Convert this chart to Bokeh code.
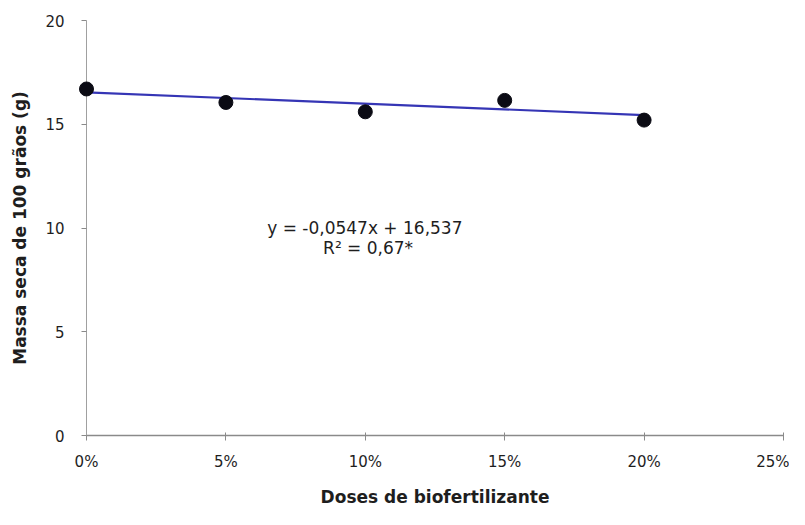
from bokeh.plotting import figure
from bokeh.models import Range1d, FixedTicker, ColumnDataSource
from bokeh.core.properties import value
from bokeh.embed import file_html
from bokeh.resources import INLINE

# data
doses = [0, 5, 10, 15, 20]
massa = [16.7, 16.05, 15.6, 16.15, 15.2]
slope = -0.0547
intercept = 16.537
x_ticks = [0, 5, 10, 15, 20, 25]
x_tick_labels = ["0%", "5%", "10%", "15%", "20%", "25%"]
y_ticks = [0, 5, 10, 15, 20]
eq_lines = ["y = -0,0547x  + 16,537", "R² = 0,67*"]
eq_x = [10.08, 10.1]
eq_y = [10.02, 9.02]

FONT = "DejaVu Sans"
TXT = "#1e1e1e"

p = figure(width=789, height=509, output_backend="svg", toolbar_location=None,
           x_range=Range1d(0, 25), y_range=Range1d(0, 20),
           min_border_left=86, min_border_right=6, min_border_top=20, min_border_bottom=72)
p.outline_line_color = None
p.grid.visible = False
p.background_fill_color = "white"
p.border_fill_color = "white"

# regression line
fit_x = [doses[0], doses[-1]]
fit_y = [intercept + slope * x for x in fit_x]
p.line(fit_x, fit_y, line_color="#3535b5", line_width=2.2)

# points
src = ColumnDataSource(dict(x=doses, y=massa))
p.scatter("x", "y", source=src, size=14, fill_color="#0b0b14", line_color="#0b0b14", level="overlay")

# equation text
p.text(x=eq_x, y=eq_y, text=eq_lines, text_align="center", text_baseline="middle",
       text_font=value(FONT), text_font_size="17px", text_color=TXT)

# axes
xa = p.xaxis[0]
xa.ticker = FixedTicker(ticks=x_ticks)
xa.major_label_overrides = {t: l for t, l in zip(x_ticks, x_tick_labels)}
xa.minor_tick_line_color = None
xa.axis_line_color = "#8a8a8a"
xa.axis_line_width = 1.5
xa.major_tick_line_color = "#8a8a8a"
xa.major_tick_in = 3
xa.major_tick_out = 5
xa.major_label_standoff = 12
xa.major_label_text_font = FONT
xa.major_label_text_font_size = "15px"
xa.major_label_text_color = TXT
xa.axis_label = "Doses de biofertilizante"
xa.axis_label_text_font = FONT
xa.axis_label_text_font_style = "bold"
xa.axis_label_text_font_size = "17px"
xa.axis_label_text_color = TXT
xa.axis_label_standoff = 13

ya = p.yaxis[0]
ya.ticker = FixedTicker(ticks=y_ticks)
ya.minor_tick_line_color = None
ya.axis_line_color = "#a0a0a0"
ya.major_tick_line_color = "#8a8a8a"
ya.major_tick_in = 0
ya.major_tick_out = 5
ya.major_label_standoff = 17
ya.major_label_text_font = FONT
ya.major_label_text_font_size = "15px"
ya.major_label_text_color = TXT
ya.axis_label = "Massa seca de 100 grãos (g)"
ya.axis_label_text_font = FONT
ya.axis_label_text_font_style = "bold"
ya.axis_label_text_font_size = "17px"
ya.axis_label_text_color = TXT
ya.axis_label_standoff = 12

open("out.html", "w").write(file_html(p, INLINE))
